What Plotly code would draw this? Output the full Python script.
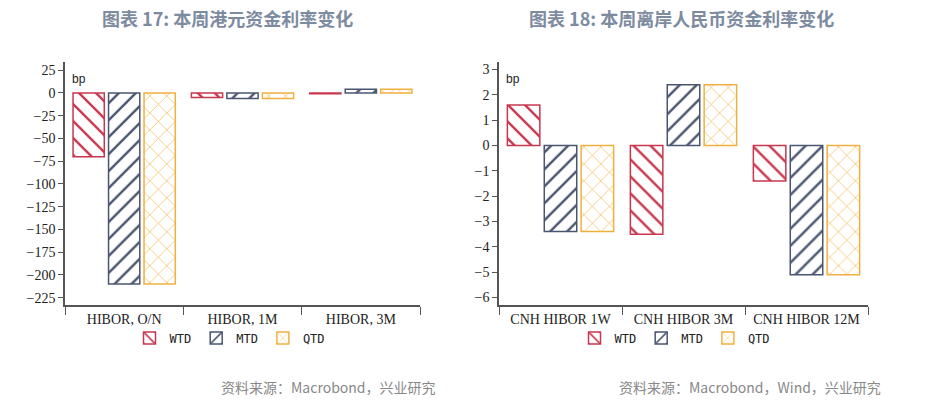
import plotly.graph_objects as go

cats_l = ["HIBOR, O/N", "HIBOR, 1M", "HIBOR, 3M"]
wtd_l = [-70, -5, -1]
mtd_l = [-210, -6, 4]
qtd_l = [-210, -6, 4]

cats_r = ["CNH HIBOR 1W", "CNH HIBOR 3M", "CNH HIBOR 12M"]
wtd_r = [1.6, -3.5, -1.4]
mtd_r = [-3.4, 2.4, -5.1]
qtd_r = [-3.4, 2.4, -5.1]

series = ["WTD", "MTD", "QTD"]
colors = ["#c8374e", "#4a5570", "#f0b040"]
shapes = ["\\", "/", "x"]

W, H, OFF = 910, 387, 8
def px(x): return (x - OFF) / W
def py(y): return 1 - (y - OFF) / H

fig = go.Figure()
for i, (name, vl, vr) in enumerate(zip(series, [wtd_l, mtd_l, qtd_l], [wtd_r, mtd_r, qtd_r])):
    for cats, vals, xa, ya, lg in [(cats_l, vl, "x", "y", "legend"), (cats_r, vr, "x2", "y2", "legend2")]:
        fig.add_trace(go.Bar(
            x=cats, y=vals, name=name, xaxis=xa, yaxis=ya, legend=lg,
            marker=dict(color="white", line=dict(color=colors[i], width=1.5),
                        pattern=dict(shape=shapes[i], fgcolor=colors[i], bgcolor="white", fgopacity=1,
                                     fillmode="overlay", size=12, solidity=0.2 if i < 2 else 0.1)),
        ))

ax_common = dict(showline=True, linecolor="#555", linewidth=1.5, ticks="outside", automargin=False,
                 tickcolor="#555", tickfont=dict(family="Liberation Serif", size=14, color="#222"),
                 showgrid=False, zeroline=False)
fig.update_layout(
    width=W, height=H, margin=dict(l=0, r=0, t=0, b=0, autoexpand=False),
    plot_bgcolor="white", paper_bgcolor="white",
    barmode="group", bargap=0.1, bargroupgap=0.12,
    xaxis=dict(domain=[px(65), px(420)], anchor="y", tickson="boundaries", ticklen=8, **ax_common),
    yaxis=dict(domain=[py(305), py(62)], anchor="x", range=[-233, 34],
               tickvals=[25, 0, -25, -50, -75, -100, -125, -150, -175, -200, -225], ticklen=5, **ax_common),
    xaxis2=dict(domain=[px(499), px(868)], anchor="y2", tickson="boundaries", ticklen=8, **ax_common),
    yaxis2=dict(domain=[py(305), py(62)], anchor="x2", range=[-6.3, 3.3],
                tickvals=list(range(3, -7, -1)), ticklen=5, **ax_common),
    legend=dict(orientation="h", x=px(230), xanchor="center", y=py(338), yanchor="middle",
                bgcolor="rgba(0,0,0,0)", font=dict(size=12, color="#222", family="DejaVu Sans Mono"), itemwidth=30),
    legend2=dict(orientation="h", x=px(675), xanchor="center", y=py(338), yanchor="middle",
                 bgcolor="rgba(0,0,0,0)", font=dict(size=12, color="#222", family="DejaVu Sans Mono"), itemwidth=30),
    font=dict(family="Noto Sans CJK SC"),
)
annots = [
    dict(text="<b>图表 17: 本周港元资金利率变化</b>", x=227, y=18, size=18, color="#7d8ba0"),
    dict(text="<b>图表 18: 本周离岸人民币资金利率变化</b>", x=681, y=18, size=18, color="#7d8ba0"),
    dict(text="资料来源：Macrobond，兴业研究", x=328, y=387, size=14, color="#888"),
    dict(text="资料来源：Macrobond，Wind，兴业研究", x=750, y=387, size=14, color="#888"),
]
for a in annots:
    fig.add_annotation(text=a["text"], xref="paper", yref="paper", x=px(a["x"]), y=py(a["y"]),
                       showarrow=False, xanchor="center", yanchor="middle",
                       font=dict(size=a["size"], color=a["color"], family="Noto Sans CJK SC"))
fig.add_annotation(text="bp", xref="paper", yref="paper", x=px(70), y=py(70), showarrow=False,
                   xanchor="left", font=dict(size=12, color="#222", family="Liberation Sans"))
fig.add_annotation(text="bp", xref="paper", yref="paper", x=px(504), y=py(70), showarrow=False,
                   xanchor="left", font=dict(size=12, color="#222", family="Liberation Sans"))
fig.write_html("out.html")
